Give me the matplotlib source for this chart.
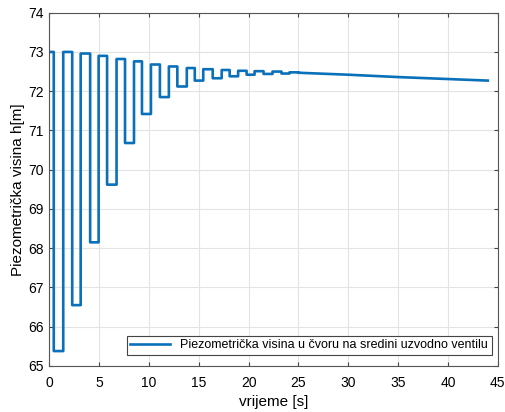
import matplotlib.pyplot as plt
import numpy as np

plt.rcParams['font.family'] = ['Liberation Sans', 'DejaVu Sans']

# vremena prebacivanja (s) i razine izmedju njih (m)
t_sw = [0, 0.45, 1.4, 2.3, 3.15, 4.1, 4.95, 5.8, 6.75, 7.6, 8.5, 9.3, 10.2,
        11.1, 12.0, 12.85, 13.8, 14.6, 15.45, 16.4, 17.3, 18.1, 18.95, 19.8,
        20.6, 21.5, 22.4, 23.3, 24.1, 25.0]
h_lvl = [73.0, 65.38, 73.0, 66.55, 72.96, 68.15, 72.9, 69.62, 72.82, 70.68,
         72.76, 71.42, 72.68, 71.85, 72.63, 72.12, 72.59, 72.27, 72.56, 72.33,
         72.54, 72.38, 72.52, 72.42, 72.51, 72.44, 72.5, 72.45, 72.48]

# spori pad nakon prigusenja
t_tail = [25.0, 30.0, 35.0, 40.0, 44.0]
h_tail = [72.47, 72.42, 72.36, 72.31, 72.27]

# vrhovi poligona (stepenice + rep)
t_all = np.concatenate([np.repeat(t_sw, 2)[1:-1], t_tail])
h_all = np.concatenate([np.repeat(h_lvl, 2), h_tail])

fig = plt.figure(figsize=(5.05, 4.12), dpi=100)
ax = fig.add_axes([0.0976, 0.1117, 0.888, 0.8575])

ax.plot(t_all, h_all, color='#0a70b9', lw=1.9,
        label='Piezometrička visina u čvoru na sredini uzvodno ventilu')

ax.set_xlim(0, 45)
ax.set_ylim(65, 74)
ax.set_xticks(np.arange(0, 46, 5))
ax.set_yticks(np.arange(65, 75, 1))
ax.grid(True, color='#e3e3e3', lw=0.8)
ax.set_axisbelow(True)
ax.tick_params(direction='in', length=3, labelsize=10, top=True, right=True,
               color='#444444', pad=4)
ax.tick_params(axis='x', pad=7)
for s in ax.spines.values():
    s.set_color('#555555')
    s.set_linewidth(0.8)

ax.set_xlabel('vrijeme [s]', fontsize=11, labelpad=4)
ax.set_ylabel('Piezometrička visina h[m]', fontsize=11, labelpad=2)

leg = ax.legend(loc='lower right', bbox_to_anchor=(0.987, 0.031),
                borderaxespad=0, fontsize=9, fancybox=False, framealpha=1,
                edgecolor='#444444', handlelength=3.2, borderpad=0.3)
leg.get_frame().set_linewidth(0.8)

plt.savefig('out.png', dpi=100)
